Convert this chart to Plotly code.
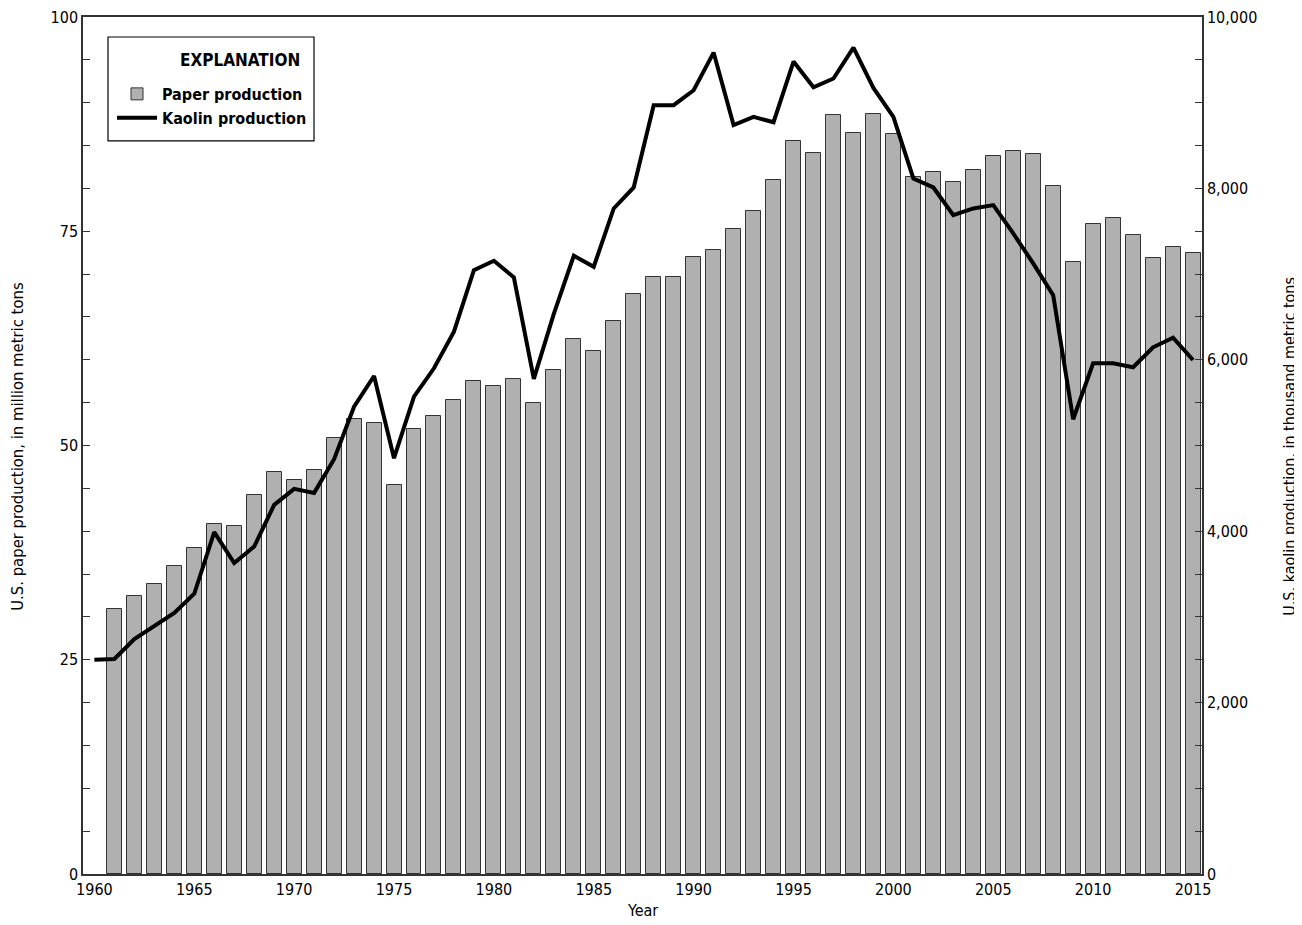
import plotly.graph_objects as go

years = list(range(1960, 2016))

# U.S. paper production, million metric tons (1960 has no bar)
paper = [None,
         30.95, 32.47, 33.87, 35.96, 38.03, 40.86, 40.66, 44.24, 46.96, 45.99,
         47.16, 50.92, 53.10, 52.67, 45.41, 51.90, 53.49, 55.28, 57.53, 56.95,
         57.76, 54.97, 58.81, 62.43, 61.05, 64.53, 67.64, 69.69, 69.62, 72.02,
         72.80, 75.22, 77.31, 80.96, 85.54, 84.08, 88.54, 86.48, 88.69, 86.29,
         81.28, 81.93, 80.77, 82.12, 83.76, 84.31, 83.96, 80.23, 71.44, 75.83,
         76.50, 74.55, 71.83, 73.15, 72.45]

# U.S. kaolin production, thousand metric tons
kaolin = [2500,
          2509, 2742, 2897, 3045, 3270, 3989, 3628, 3821, 4307, 4494,
          4447, 4840, 5453, 5811, 4852, 5570, 5901, 6328, 7047, 7156,
          6962, 5777, 6535, 7214, 7086, 7766, 8011, 8971, 8971, 9145,
          9585, 8738, 8834, 8772, 9480, 9180, 9282, 9643, 9172, 8834,
          8116, 8011, 7688, 7766, 7805, 7475, 7125, 6755, 5306, 5959,
          5959, 5913, 6146, 6258, 5998]

x_ticks = list(range(1960, 2016, 5))
left_ticks = [0, 25, 50, 75, 100]
right_ticks = [0, 2000, 4000, 6000, 8000, 10000]

FONT = "DejaVu Sans Condensed, Liberation Sans Narrow, Roboto, sans-serif"
AX = "#333333"

# page body has an 8px margin: figure is sized/offset to compensate
W, H = 1294, 917
ML, MT, MR, MB = 75, 9, 100, 50.5
PW = W - ML - MR          # plot width in px
PH = H - MT - MB          # plot height in px


def px_x(x):  # on-screen x -> paper
    return (x - 8 - ML) / PW


def px_y(y):  # on-screen y -> paper
    return 1 - (y - 8 - MT) / PH


fig = go.Figure()
fig.add_trace(go.Bar(
    x=years, y=paper, name="Paper production", width=0.75,
    marker=dict(color="#b0b0b0", line=dict(color="#333333", width=1)),
    yaxis="y",
))
fig.add_trace(go.Scatter(
    x=years, y=kaolin, name="Kaolin production", mode="lines",
    line=dict(color="black", width=4),
    yaxis="y2",
))

fig.update_layout(
    width=W, height=H,
    margin=dict(l=ML, r=MR, t=MT, b=MB, autoexpand=False),
    paper_bgcolor="white", plot_bgcolor="white",
    font=dict(family=FONT, color="black", size=15),
    showlegend=True,
    legend=dict(
        x=px_x(112), y=px_y(77), xanchor="left", yanchor="top",
        bgcolor="rgba(0,0,0,0)", borderwidth=0,
        font=dict(family=FONT, size=16, weight="bold"),
        traceorder="normal", itemwidth=40,
    ),
    bargap=0,
    xaxis=dict(
        range=[1959.43, 2015.45], tickmode="array", tickvals=x_ticks,
        ticks="", showgrid=False, zeroline=False, automargin=False,
        showline=True, linecolor=AX, linewidth=1.5, mirror=True,
        tickfont=dict(family=FONT, size=16), ticklabeloverflow="allow",
    ),
    yaxis=dict(
        range=[0, 100], tickmode="array", tickvals=left_ticks,
        ticks="inside", ticklen=7, tickcolor=AX, tickwidth=1.2,
        minor=dict(dtick=5, ticks="inside", ticklen=7, tickcolor=AX, tickwidth=1.2),
        showgrid=False, zeroline=False, automargin=False,
        showline=True, linecolor=AX, linewidth=1.5,
        tickfont=dict(family=FONT, size=16), ticklabeloverflow="allow",
    ),
    yaxis2=dict(
        range=[0, 10000], overlaying="y", side="right",
        tickmode="array", tickvals=right_ticks, tickformat=",",
        ticks="inside", ticklen=7, tickcolor=AX, tickwidth=1.2,
        minor=dict(dtick=500, ticks="inside", ticklen=7, tickcolor=AX, tickwidth=1.2),
        showgrid=False, zeroline=False, automargin=False,
        showline=True, linecolor=AX, linewidth=1.5,
        tickfont=dict(family=FONT, size=16), ticklabeloverflow="allow",
    ),
    shapes=[
        dict(type="rect", xref="paper", yref="paper",
             x0=px_x(108), x1=px_x(314), y0=px_y(141), y1=px_y(37),
             line=dict(color="black", width=1.2), fillcolor="white", layer="above"),
    ],
    annotations=[
        dict(text="<b>EXPLANATION</b>", xref="paper", yref="paper",
             x=px_x(302), y=px_y(60), xanchor="right", yanchor="middle",
             showarrow=False, font=dict(family=FONT, size=17)),
        dict(text="Year", xref="paper", yref="paper",
             x=0.5, y=px_y(911), xanchor="center", yanchor="middle",
             showarrow=False, font=dict(family=FONT, size=16)),
        dict(text="U.S. paper production, in million metric tons",
             xref="paper", yref="paper", x=px_x(18), y=px_y(447), textangle=-90,
             showarrow=False, xanchor="center", yanchor="middle",
             font=dict(family=FONT, size=16.5)),
        dict(text="U.S. kaolin production, in thousand metric tons",
             xref="paper", yref="paper", x=px_x(1290), y=px_y(447), textangle=-90,
             showarrow=False, xanchor="center", yanchor="middle",
             font=dict(family=FONT, size=16)),
    ],
)

fig.write_html("out.html")
